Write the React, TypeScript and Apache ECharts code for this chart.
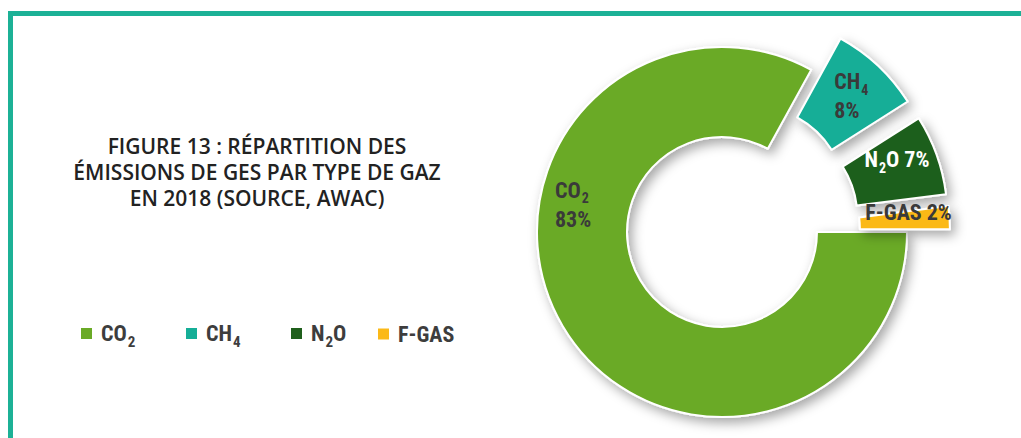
import React, { useEffect, useRef } from "react";
import * as echarts from "echarts";

const gases = ["CO2", "CH4", "N2O", "F-GAS"];
const shares = [83, 8, 7, 2];
const exploded = [false, true, true, true];
const gasColors = ["#6aaa26", "#15ae97", "#1f5f1c", "#fbb918"];
const labelColors = ["#3a3a3a", "#3a3a3a", "#ffffff", "#3a3a3a"];
const titleLines = [
  "FIGURE 13 : RÉPARTITION DES",
  "ÉMISSIONS DE GES PAR TYPE DE GAZ",
  "EN 2018 (SOURCE, AWAC)",
];
const richNames: Record<string, [string, string, string]> = {
  CO2: ["CO", "2", ""],
  CH4: ["CH", "4", ""],
  N2O: ["N", "2", "O"],
  "F-GAS": ["F-GAS", "", ""],
};

const COND = "'Roboto Condensed', 'Liberation Sans Narrow', 'DejaVu Sans Condensed', Roboto, sans-serif";

function richName(n: string): string {
  const [a, s, b] = richNames[n];
  return `{m|${a}}` + (s ? `{sub|${s}}` : "") + (b ? `{m|${b}}` : "");
}

export default function App() {
  const ref = useRef<HTMLDivElement>(null);
  useEffect(() => {
    if (!ref.current) return;
    const chart = echarts.init(ref.current, null, { renderer: "svg" });
    const legendLeft = [79, 184, 289, 376];
    const labelShift: [number, number, string][] = [
      [-44, -100, "left"],
      [-15, 0, "left"],
      [0, -9, "center"],
      [1, -8, "center"],
    ];
    const option: any = {
      animation: false,
      backgroundColor: "#ffffff",
      title: {
        text: titleLines.join("\n"),
        left: 257,
        top: 133,
        padding: 0,
        textAlign: "center",
        textStyle: {
          fontFamily: "'Open Sans', sans-serif",
          fontWeight: 600,
          fontSize: 21,
          lineHeight: 26,
          color: "#222222",
        },
      },
      graphic: [
        { type: "rect", shape: { x: 8, y: 11, width: 1013, height: 5 }, style: { fill: "#1cb196" } },
        { type: "rect", shape: { x: 8, y: 11, width: 5, height: 427 }, style: { fill: "#1cb196" } },
      ],
      legend: gases.map((g, i) => ({
        data: [g],
        left: legendLeft[i],
        top: richNames[g][1] ? 318 : 323,
        padding: 0,
        icon: "rect",
        itemWidth: 13,
        itemHeight: 13,
        selectedMode: false,
        formatter: (n: string) => richName(n),
        textStyle: {
          fontFamily: COND,
          fontWeight: "bold",
          fontSize: 22,
          color: "#3d3d3d",
          padding: [0, 0, 0, 3],
          rich: {
            m: { fontFamily: COND, fontWeight: "bold", fontSize: 22, color: "#3d3d3d", lineHeight: 31 },
            sub: { fontFamily: COND, fontWeight: "bold", fontSize: 15, color: "#3d3d3d", lineHeight: 15, padding: [16, 0, 0, 1] },
          },
        },
      })),
      series: [
        {
          type: "pie",
          center: [722, 232],
          radius: [95, 185],
          startAngle: 0,
          clockwise: true,
          selectedMode: "multiple",
          selectedOffset: 43,
          avoidLabelOverlap: false,
          emphasis: { disabled: true },
          itemStyle: {
            borderColor: "#ffffff",
            borderWidth: 2,
            shadowBlur: 12,
            shadowColor: "rgba(0,0,0,0.35)",
            shadowOffsetX: 4,
            shadowOffsetY: 5,
          },
          label: {
            show: true,
            position: "inside",
            fontFamily: COND,
            fontWeight: "bold",
            fontSize: 22,
            lineHeight: 29,
            formatter: (p: any) => {
              const nm = richName(p.name);
              const lines = p.dataIndex < 2;
              return nm + (lines ? "\n" : "{m| }") + `{m|${p.value}%}`;
            },
          },
          labelLine: { show: false },
          labelLayout: (params: any) => {
            const s = labelShift[params.dataIndex];
            return { dx: s[0], dy: s[1], align: s[2] };
          },
          data: gases.map((g, i) => ({
            name: g,
            value: shares[i],
            selected: exploded[i],
            itemStyle: { color: gasColors[i] },
            label: {
              color: labelColors[i],
              rich: {
                m: { fontFamily: COND, fontWeight: "bold", fontSize: 22, color: labelColors[i], lineHeight: 29 },
                sub: { fontFamily: COND, fontWeight: "bold", fontSize: 14, color: labelColors[i], lineHeight: 13, padding: [16, 0, 0, 1] },
              },
            },
          })),
        },
      ],
    };
    chart.setOption(option);
    return () => chart.dispose();
  }, []);
  return (
    <div
      ref={ref}
      style={{ position: "fixed", left: 0, top: 0, width: 1021, height: 438 }}
    />
  );
}
